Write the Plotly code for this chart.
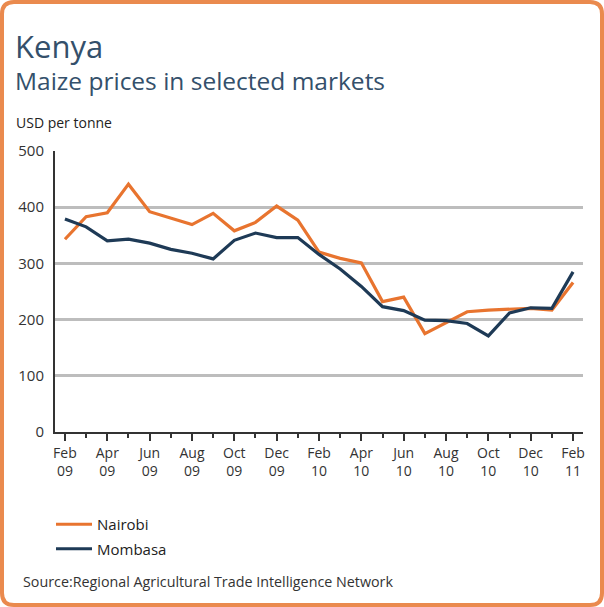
import plotly.graph_objects as go

# ---- data ----
months = ["Feb 09", "Mar 09", "Apr 09", "May 09", "Jun 09", "Jul 09", "Aug 09", "Sep 09",
          "Oct 09", "Nov 09", "Dec 09", "Jan 10", "Feb 10", "Mar 10", "Apr 10", "May 10",
          "Jun 10", "Jul 10", "Aug 10", "Sep 10", "Oct 10", "Nov 10", "Dec 10", "Jan 11", "Feb 11"]
nairobi = [343, 383, 390, 441, 392, 380, 369, 389, 358, 373, 402, 377, 320, 309, 301, 232,
           240, 175, 194, 214, 217, 219, 220, 217, 266]
mombasa = [379, 365, 340, 343, 336, 325, 318, 308, 341, 354, 346, 346, 316, 290, 259, 223,
           216, 199, 198, 193, 171, 212, 221, 220, 285]
y_ticks = [0, 100, 200, 300, 400, 500]

W, H = 604, 607
ML, MR, MT, MB = 55, 21, 151, 175
PW, PH = W - ML - MR, H - MT - MB


def px(x):
    return (x - ML) / PW


def py(y):
    return (H - MB - y) / PH


ORANGE = "#E8742F"
NAVY = "#1E3A56"
FONT = "Open Sans, Noto Sans, sans-serif"

idx = list(range(len(months)))
tickvals = idx[::2]
ticktext = [months[i].replace(" ", "<br>") for i in tickvals]

fig = go.Figure()
fig.add_trace(go.Scatter(x=idx, y=nairobi, mode="lines", name="Nairobi",
                         line=dict(color=ORANGE, width=3.2), legendgroup="a"))
fig.add_trace(go.Scatter(x=idx, y=mombasa, mode="lines", name="Mombasa",
                         line=dict(color=NAVY, width=3.2), legendgroup="b"))

fig.update_layout(
    width=W, height=H,
    margin=dict(l=ML, r=MR, t=MT, b=MB, pad=0),
    paper_bgcolor="white", plot_bgcolor="white",
    font=dict(family=FONT, color="#222", size=14),
    showlegend=True,
    legend=dict(x=px(51), y=py(508), xanchor="left", yanchor="top",
                bgcolor="rgba(0,0,0,0)", itemwidth=36, traceorder="grouped",
                tracegroupgap=2, font=dict(size=15, color="#222")),
    xaxis=dict(range=[-0.47, 24.47], tickvals=tickvals, ticktext=ticktext,
               showgrid=False, zeroline=False, showline=True, linecolor="#333", linewidth=2,
               ticks="outside", ticklen=7, tickwidth=1.5, tickcolor="#333",
               minor=dict(dtick=1, tick0=0, ticks="outside", ticklen=4, tickwidth=1.5,
                          tickcolor="#333", showgrid=False),
               tickfont=dict(size=14, color="#333"), fixedrange=True),
    yaxis=dict(range=[0, 500], tickvals=y_ticks, showgrid=True, gridcolor="#BDBDBD",
               gridwidth=2.5, zeroline=False, showline=True, linecolor="#333", linewidth=2,
               ticks="", ticklabelstandoff=6, tickfont=dict(size=15, color="#333"),
               fixedrange=True),
    annotations=[
        dict(text="Kenya", x=px(13), y=py(46), xref="paper", yref="paper",
             xanchor="left", yanchor="middle", showarrow=False,
             font=dict(size=31, color="#34506B", family=FONT)),
        dict(text="Maize prices in selected markets", x=px(13), y=py(80), xref="paper",
             yref="paper", xanchor="left", yanchor="middle", showarrow=False,
             font=dict(size=24.5, color="#34506B", family=FONT)),
        dict(text="USD per tonne", x=px(14), y=py(122), xref="paper", yref="paper",
             xanchor="left", yanchor="middle", showarrow=False,
             font=dict(size=14, color="#222", family=FONT)),
        dict(text="Source:Regional Agricultural Trade Intelligence Network", x=px(21),
             y=py(581), xref="paper", yref="paper", xanchor="left", yanchor="middle",
             showarrow=False, font=dict(size=14.3, color="#333", family=FONT)),
    ],
)

# rounded orange frame
x0, y0, x1, y1, r = px(2), py(2), px(602), py(605), 12
rx, ry = r / PW, r / PH
path = (f"M {x0 + rx},{y0} L {x1 - rx},{y0} Q {x1},{y0} {x1},{y0 - ry} "
        f"L {x1},{y1 + ry} Q {x1},{y1} {x1 - rx},{y1} "
        f"L {x0 + rx},{y1} Q {x0},{y1} {x0},{y1 + ry} "
        f"L {x0},{y0 - ry} Q {x0},{y0} {x0 + rx},{y0} Z")
fig.add_shape(type="path", path=path, xref="paper", yref="paper",
              line=dict(color="#EA8A4E", width=4), layer="above")

fig.write_html("out.html", config={"displayModeBar": False},
               post_script="document.body.style.margin='0';document.body.style.overflow='hidden';")
